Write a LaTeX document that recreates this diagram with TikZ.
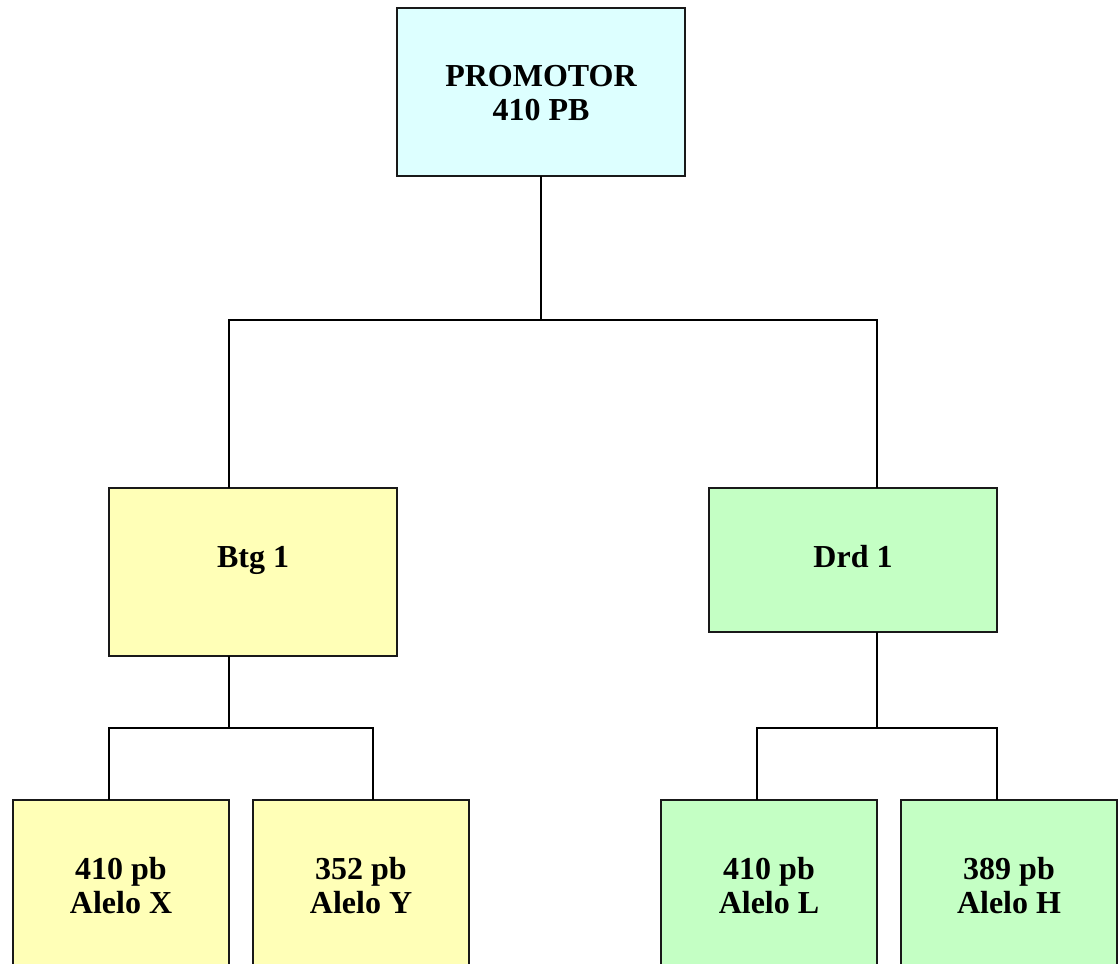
\documentclass[tikz,border=0pt]{standalone}
\usepackage{fontspec}
\setmainfont{Liberation Serif}
\definecolor{promcol}{RGB}{221,255,255}
\definecolor{btgcol}{RGB}{255,255,183}
\definecolor{drdcol}{RGB}{196,255,196}
\tikzset{
  box/.style={draw=black!90, line width=1.5pt, inner sep=0pt, outer sep=0pt, anchor=north west},
  lbl/.style={font=\fontsize{32}{34}\selectfont\bfseries, align=center, inner sep=0pt},
  conn/.style={draw=black, line width=1.3pt}
}
\begin{document}
\begin{tikzpicture}[x=1pt,y=-1pt]
\useasboundingbox (0,0) rectangle (1120,964);
\clip (0,0) rectangle (1120,964);
\fill[white] (0,0) rectangle (1120,964);
% boxes
\node[box, fill=promcol, minimum width=288pt, minimum height=168pt] (prom) at (397,8) {};
\node[box, fill=btgcol, minimum width=288pt, minimum height=168pt] (btg) at (109,488) {};
\node[box, fill=drdcol, minimum width=288pt, minimum height=144pt] (drd) at (709,488) {};
\node[box, fill=btgcol, minimum width=216pt, minimum height=168pt] (ax) at (13,800) {};
\node[box, fill=btgcol, minimum width=216pt, minimum height=168pt] (ay) at (253,800) {};
\node[box, fill=drdcol, minimum width=216pt, minimum height=168pt] (al) at (661,800) {};
\node[box, fill=drdcol, minimum width=216pt, minimum height=168pt] (ah) at (901,800) {};
% texts
\node[lbl] (tprom) at (541,93) {PROMOTOR\\410 PB};
\node[lbl, anchor=base] (tbtg) at (253,567) {Btg 1};
\node[lbl, anchor=base] (tdrd) at (853,567) {Drd 1};
\node[lbl] (tax) at (121,886) {410 pb\\Alelo X};
\node[lbl] (tay) at (361,886) {352 pb\\Alelo Y};
\node[lbl] (tal) at (769,886) {410 pb\\Alelo L};
\node[lbl] (tah) at (1009,886) {389 pb\\Alelo H};
% junctions
\coordinate (j1) at (541,320);
\coordinate (j2) at (229,728);
\coordinate (j3) at (877,728);
% connectors
\draw[conn] (prom.south -| j1) -- (j1);
\draw[conn] (j1) -| (btg.north -| 229,0);
\draw[conn] (j1) -| (drd.north -| 877,0);
\draw[conn] (btg.south -| j2) -- (j2);
\draw[conn] (j2) -| (ax.north -| 109,0);
\draw[conn] (j2) -| (ay.north -| 373,0);
\draw[conn] (drd.south -| j3) -- (j3);
\draw[conn] (j3) -| (al.north -| 757,0);
\draw[conn] (j3) -| (ah.north -| 997,0);
\end{tikzpicture}
\end{document}
